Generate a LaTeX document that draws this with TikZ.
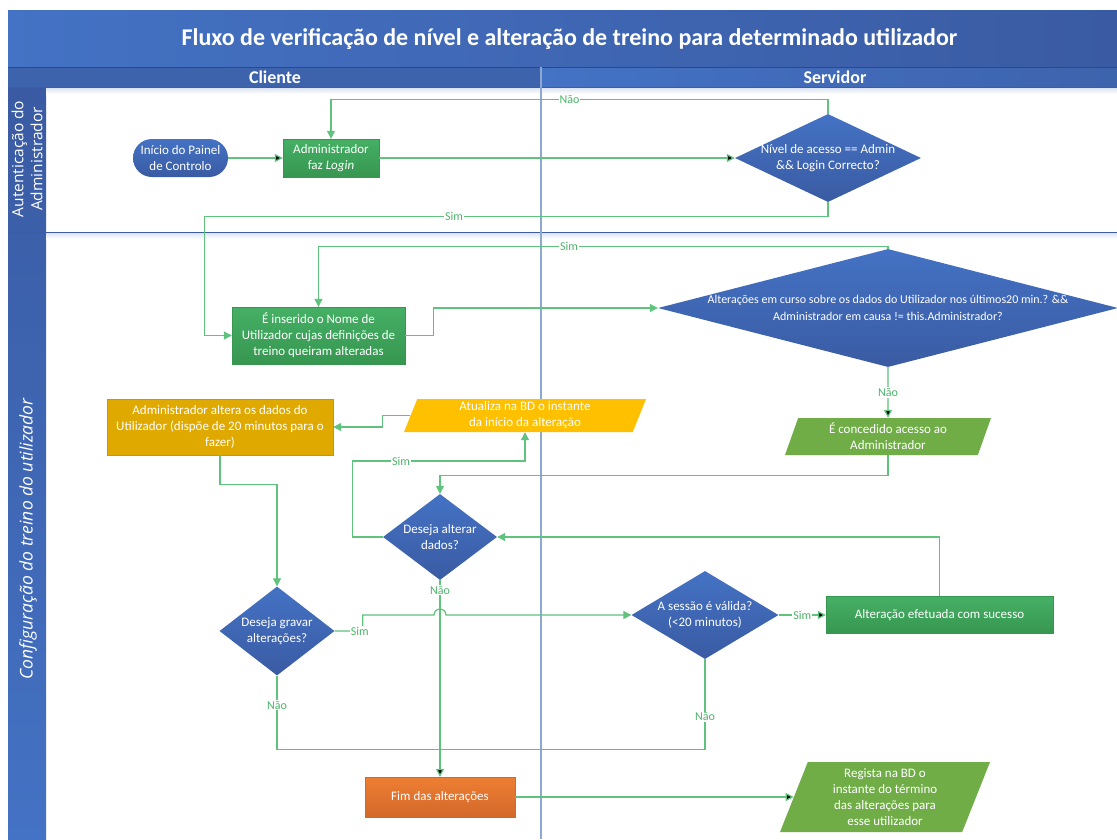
\documentclass[tikz,border=0pt]{standalone}
\usepackage{fontspec}
\setmainfont{Carlito}
\newfontfamily\lanefont{Open Sans}
\usetikzlibrary{arrows.meta,shapes.geometric}

\definecolor{titleblue}{HTML}{4472C4}
\definecolor{deepblue}{HTML}{3A5BA3}
\definecolor{bandblue}{HTML}{3E63AD}
\definecolor{lineblue}{HTML}{3C5DA6}
\definecolor{paleblue}{HTML}{DCE4F2}
\definecolor{dividerblue}{HTML}{8EA8D4}
\definecolor{flowgreen}{HTML}{5FC27D}
\definecolor{textgreen}{HTML}{4DB56A}
\definecolor{boxgreen}{HTML}{45B065}
\definecolor{boxgreendark}{HTML}{379650}
\definecolor{paragreen}{HTML}{70AD47}
\definecolor{boxyellow}{HTML}{FFC000}
\definecolor{boxgold}{HTML}{DFA900}
\definecolor{boxorange}{HTML}{EE7E32}
\definecolor{boxorangedark}{HTML}{D2682A}

\begin{document}
\begin{tikzpicture}[x=1pt,y=-1pt,>={Triangle[length=8pt,width=8pt]},
  base node/.style={text=white,align=center,inner sep=0pt,font=\fontsize{13}{16}\selectfont},
  start node/.style={base node,rectangle,rounded corners=19pt,top color=titleblue,bottom color=deepblue,minimum width=95pt,minimum height=38pt},
  process node/.style={base node,rectangle,top color=boxgreen,bottom color=boxgreendark,draw=boxgreendark},
  decision node/.style={base node,diamond,inner sep=-6pt,top color=titleblue,bottom color=deepblue},
  data node/.style={base node,trapezium,trapezium left angle=64,trapezium right angle=116,trapezium stretches body,fill=paragreen},
  flow/.style={->,draw=flowgreen,line width=1.2pt},
  link/.style={draw=flowgreen,line width=1.2pt},
  edge label/.style={fill=white,text=textgreen,inner sep=1pt,font=\fontsize{12}{14}\selectfont}]

 \useasboundingbox (0,0) rectangle (1117,839);
 \fill[white] (0,0) rectangle (1117,839);

 \fill[left color=titleblue,right color=deepblue] (8,10) rectangle (1117,67);
 \fill[bandblue] (8,67) rectangle (541,87);
 \fill[left color=titleblue,right color=bandblue] (541,67) rectangle (1117,87);
 \fill[top color=deepblue,bottom color=titleblue] (8,87) rectangle (46,839);
 \fill[top color=paleblue,bottom color=white] (46,88) rectangle (1117,94);
 \fill[top color=paleblue,bottom color=white] (46,233) rectangle (1117,239);
 \draw[deepblue!80!black,line width=1pt] (8,67) -- (1117,67);
 \draw[lineblue,line width=1pt] (8,87) -- (1117,87);
 \draw[lineblue,line width=1pt] (8,232) -- (1117,232);
 \draw[dividerblue,line width=1.5pt] (541,67) -- (541,839);

 \node[text=white,font=\bfseries\fontsize{24}{28}\selectfont] (title) at (569.5,39) {Fluxo de verificação de nível e alteração de treino para determinado utilizador};
 \node[text=white,font=\bfseries\fontsize{18}{20}\selectfont] (cliente) at (275,77) {Cliente};
 \node[text=white,font=\bfseries\fontsize{18}{20}\selectfont] (servidor) at (835,77) {Servidor};
 \node[rotate=90,text=white,align=center,inner sep=0pt,font=\lanefont\fontsize{15.5}{19}\selectfont] (auth) at (27,159) {Autenticação do\\Administrador};
 \node[rotate=90,text=white,font=\lanefont\itshape\fontsize{17.5}{20}\selectfont] (config) at (28,539) {Configuração do treino do utilizador};

 \node[start node] (1) at (180.5,158) {Início do Painel\\de Controlo};
 \node[process node,minimum width=96pt,minimum height=38pt] (2) at (331,158) {Administrador\\faz \textit{Login}};
 \node[decision node,aspect=2.1,minimum width=186pt,minimum height=88pt] (3) at (828,158) {Nível de acesso == Admin\\\&\& Login Correcto?};
 \node[process node,minimum width=173pt,minimum height=57pt] (4) at (318.5,335.5) {É inserido o Nome de\\Utilizador cujas definições de\\treino queiram alteradas};
 \node[decision node,aspect=3.9,minimum width=460pt,minimum height=118pt,font=\fontsize{12}{17}\selectfont] (5) at (888,308) {Alterações em curso sobre os dados do Utilizador nos últimos20 min.? \&\&\\Administrador em causa != this.Administrador?};
 \node[data node,minimum width=206pt,minimum height=37pt] (6) at (888,436.5) {É concedido acesso ao\\Administrador};
 \node[decision node,aspect=1.3,minimum width=114pt,minimum height=86pt] (7) at (440,537) {Deseja alterar\\dados?};
 \node[data node,fill=boxyellow,minimum width=242pt,minimum height=33pt] (8) at (525,415.5) {Atualiza na BD o instante\\da início da alteração};
 \node[process node,top color=boxgold,bottom color=boxgold,draw=boxgold!90!black,minimum width=226pt,minimum height=56pt] (9) at (220,427) {Administrador altera os dados do\\Utilizador (dispõe de 20 minutos para o\\fazer)};
 \node[decision node,aspect=1.3,minimum width=115pt,minimum height=89pt] (10) at (277,631) {Deseja gravar\\alterações?};
 \node[decision node,aspect=1.7,minimum width=147pt,minimum height=88pt] (11) at (705,615) {A sessão é válida?\\(<20 minutos)};
 \node[process node,minimum width=227pt,minimum height=37pt] (12) at (939.5,615) {Alteração efetuada com sucesso};
 \node[process node,top color=boxorange,bottom color=boxorangedark,draw=boxorangedark,minimum width=150pt,minimum height=40pt] (13) at (440,797) {Fim das alterações};
 \node[data node,minimum width=210pt,minimum height=70pt] (14) at (885,797) {Regista na BD o\\instante do término\\das alterações para\\esse utilizador};

 \coordinate (jump) at (7.south |- 11.west);

 \path[flow]
    (1)  edge (2)
    (2)  edge (3)
    (5)  edge node[edge label] {Não} (6)
    (11) edge node[edge label] {Sim} (12)
    (7)  edge node[edge label,pos=0.05] {Não} (13)
    (13) edge (14);

 \draw[flow] (3.north) -- ++(0,-14) -| node[edge label,pos=0.26] {Não} (2.north);
 \draw[flow] (3.south) -- ++(0,14) -| node[edge label,pos=0.3] {Sim} ([xshift=-27pt]4.west) -- (4.west);
 \draw[flow] (4.east) -- ++(28,0) |- (5.west);
 \draw[flow] (5.north) -- ++(0,-2) -| node[edge label,pos=0.28] {Sim} (4.north);
 \draw[flow] (6.south) -- ++(0,20) -| (7.north);
 \draw[flow] (7.west) -- ++(-30,0) -- ++(0,-76) -| node[edge label,pos=0.14] {Sim} (8.south);
 \draw[flow] (8.west) -- ++(-28,0) |- (9.east);
 \draw[flow] (9.south) -- ++(0,29) -| (10.north);
 \draw[flow] (10.east) -- node[edge label,pos=0.9] {Sim} ++(28,0) |- ([xshift=-6pt]jump) arc[start angle=180,end angle=0,radius=6pt] -- (11.west);
 \draw[link] (10.south) -- node[edge label,pos=0.4] {Não} ++(0,73.5) -| node[edge label,pos=0.68] {Não} (11.south);
 \draw[flow] (12.north) |- (7.east);

\end{tikzpicture}
\end{document}
